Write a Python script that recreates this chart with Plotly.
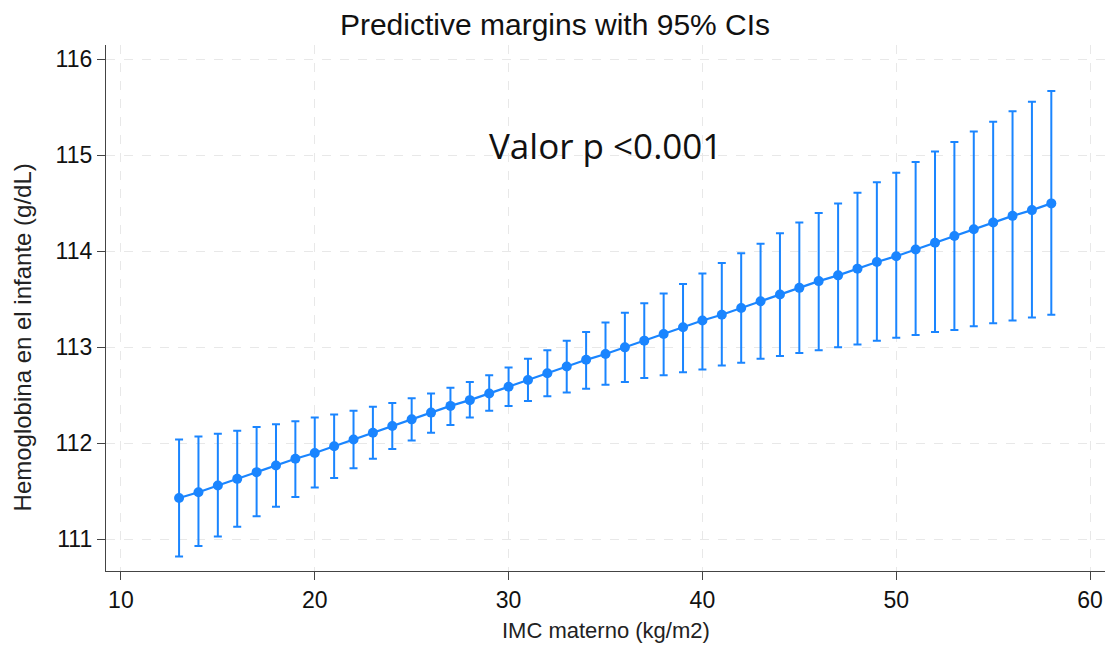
import plotly.graph_objects as go

imc = list(range(13, 59))
margin = [111.43, 111.49, 111.56, 111.63, 111.70, 111.77, 111.84, 111.90, 111.97, 112.04,
          112.11, 112.18, 112.25, 112.32, 112.39, 112.45, 112.52, 112.59, 112.66, 112.73,
          112.80, 112.87, 112.93, 113.00, 113.07, 113.14, 113.21, 113.28, 113.34, 113.41,
          113.48, 113.55, 113.62, 113.69, 113.75, 113.82, 113.89, 113.95, 114.02, 114.09,
          114.16, 114.23, 114.30, 114.37, 114.43, 114.50]
upper = [112.04, 112.07, 112.10, 112.13, 112.17, 112.20, 112.23, 112.27, 112.30, 112.34,
         112.38, 112.42, 112.47, 112.52, 112.58, 112.64, 112.71, 112.79, 112.88, 112.97,
         113.07, 113.16, 113.26, 113.36, 113.46, 113.56, 113.66, 113.77, 113.88, 113.98,
         114.08, 114.19, 114.30, 114.40, 114.50, 114.61, 114.72, 114.82, 114.93, 115.04,
         115.14, 115.25, 115.35, 115.46, 115.56, 115.67]
lower = [110.82, 110.93, 111.03, 111.13, 111.24, 111.34, 111.44, 111.54, 111.64, 111.74,
         111.84, 111.94, 112.03, 112.11, 112.19, 112.27, 112.34, 112.39, 112.44, 112.49,
         112.53, 112.57, 112.61, 112.64, 112.68, 112.71, 112.74, 112.77, 112.81, 112.84,
         112.88, 112.91, 112.94, 112.97, 113.00, 113.03, 113.07, 113.10, 113.13, 113.16,
         113.18, 113.22, 113.25, 113.28, 113.31, 113.34]

x_ticks = [10, 20, 30, 40, 50, 60]
y_ticks = [111, 112, 113, 114, 115, 116]

color = "#1a85ff"
font_main = "Liberation Sans, Arial"
err_plus = [u - m for u, m in zip(upper, margin)]
err_minus = [m - l for m, l in zip(margin, lower)]

fig = go.Figure()
fig.add_trace(go.Scatter(
    x=imc, y=margin, mode="lines+markers",
    line=dict(color=color, width=2.2),
    marker=dict(color=color, size=10),
    error_y=dict(type="data", symmetric=False, array=err_plus, arrayminus=err_minus,
                 color=color, thickness=2, width=4),
    showlegend=False,
))

fig.add_annotation(
    x=35.0, y=115.1, xref="x", yref="y", text="Valor p <0.001", showarrow=False,
    font=dict(family="Open Sans", size=35, color="#111111"),
)
fig.add_annotation(
    x=0.5005, y=-0.114, xref="paper", yref="paper", text="IMC materno (kg/m2)",
    showarrow=False, xanchor="center", yanchor="middle",
    font=dict(family=font_main, size=22, color="#222222"),
)
fig.add_annotation(
    x=-0.0841, y=0.444, xref="paper", yref="paper", text="Hemoglobina en el infante (g/dL)",
    showarrow=False, xanchor="center", yanchor="middle", textangle=-90,
    font=dict(family=font_main, size=24, color="#222222"),
)

axis_common = dict(
    showline=True, linecolor="#444444", linewidth=1.3,
    ticks="outside", ticklen=8, tickcolor="#444444", tickwidth=1.3,
    showgrid=True, gridcolor="#e8e8e8", gridwidth=1.3, griddash="dash",
    zeroline=False, automargin=False,
    tickfont=dict(family=font_main, size=23, color="#111111"),
)

fig.update_layout(
    width=1110, height=653,
    paper_bgcolor="white", plot_bgcolor="white",
    margin=dict(l=106, r=5, t=45, b=82, autoexpand=False),
    title=dict(text="Predictive margins with 95% CIs", x=0.5, xanchor="center",
               xref="container", yref="container", y=1 - 24 / 653, yanchor="middle",
               automargin=False,
               font=dict(family=font_main, size=30, color="#111111")),
    xaxis=dict(range=[9.23, 60.77], tickvals=x_ticks, **axis_common),
    yaxis=dict(range=[110.67, 116.15], tickvals=y_ticks, **axis_common),
)

fig.write_html(
    "out.html",
    config={"displayModeBar": False},
    post_script="document.body.style.margin='0';document.body.style.overflow='hidden';",
)
